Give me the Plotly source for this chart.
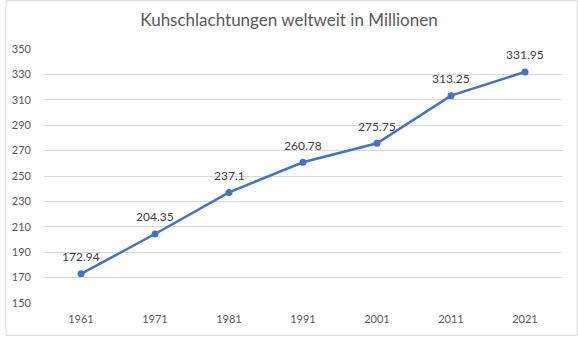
import plotly.graph_objects as go

years = ["1961", "1971", "1981", "1991", "2001", "2011", "2021"]
values = [172.94, 204.35, 237.1, 260.78, 275.75, 313.25, 331.95]
labels = ["172.94", "204.35", "237.1", "260.78", "275.75", "313.25", "331.95"]
yticks = list(range(150, 351, 20))

W, H = 578, 337
L, R, T, B = 39, 16, 49, 33
pw, ph = W - L - R, H - T - B
FONT = "Lato, Liberation Sans, Arial, sans-serif"

fig = go.Figure()
fig.add_trace(go.Scatter(
    x=years, y=values, mode="lines+markers",
    line=dict(color="#4472C4", width=2.5),
    marker=dict(size=7, color="#4472C4"),
    cliponaxis=False, showlegend=False,
))

annotations = [dict(x=i, y=v, text=t, showarrow=False, yshift=17,
                    xref="x", yref="y", yanchor="middle",
                    font=dict(family=FONT, size=12, color="#404040"))
               for i, (v, t) in enumerate(zip(values, labels))]

fig.update_layout(
    width=W, height=H,
    margin=dict(l=L, r=R, t=T, b=B),
    paper_bgcolor="white", plot_bgcolor="white",
    font=dict(family=FONT, color="#595959", size=11),
    title=dict(text="Kuhschlachtungen weltweit in Millionen", x=0.5, xanchor="center",
               y=1 - 20 / H, yanchor="middle",
               font=dict(size=17, color="#595959")),
    xaxis=dict(type="category", range=[-0.5, 6.5], showgrid=False, showline=False,
               zeroline=False, ticks="", ticklabelstandoff=8,
               tickfont=dict(size=11, color="#595959")),
    yaxis=dict(range=[150, 350], tickvals=yticks, showgrid=True, gridcolor="#D9D9D9",
               gridwidth=1, zeroline=False, showline=False, ticks="",
               ticklabelstandoff=12,
               tickfont=dict(size=11, color="#595959")),
    annotations=annotations,
    shapes=[dict(type="rect", xref="paper", yref="paper",
                 x0=-(L - 0.5) / pw, x1=1 + (R - 0.5) / pw,
                 y0=-(B - 0.5) / ph, y1=1 + (T - 0.5) / ph,
                 line=dict(color="#D9D9D9", width=1), layer="below")],
)

fig.write_html("out.html")
